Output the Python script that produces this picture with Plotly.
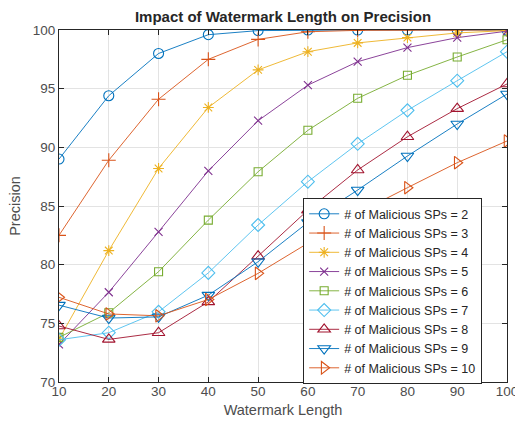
import plotly.graph_objects as go

watermark_length = [10, 20, 30, 40, 50, 60, 70, 80, 90, 100]

sp2 = [89.0, 94.4, 98.0, 99.6, 99.95, 100.0, 100.0, 100.0, 100.0, 100.0]
sp3 = [82.5, 88.9, 94.1, 97.5, 99.2, 99.85, 99.97, 100.0, 100.0, 100.0]
sp4 = [73.65, 81.2, 88.2, 93.4, 96.6, 98.15, 98.9, 99.35, 99.75, 99.95]
sp5 = [73.2, 77.65, 82.8, 88.0, 92.27, 95.3, 97.3, 98.5, 99.35, 99.9]
sp6 = [73.8, 75.9, 79.4, 83.8, 87.92, 91.45, 94.18, 96.14, 97.7, 99.17]
sp7 = [73.6, 74.2, 75.98, 79.3, 83.38, 87.07, 90.3, 93.15, 95.68, 98.15]
sp8 = [74.77, 73.63, 74.2, 76.83, 80.73, 84.65, 88.07, 90.9, 93.3, 95.4]
sp9 = [76.55, 75.45, 75.55, 77.4, 80.25, 83.6, 86.36, 89.26, 91.99, 94.54]
sp10 = [77.22, 75.8, 75.64, 77.03, 79.26, 81.8, 84.4, 86.56, 88.69, 90.54]

series_names = ["# of Malicious SPs = %d" % k for k in range(2, 11)]
series_values = [sp2, sp3, sp4, sp5, sp6, sp7, sp8, sp9, sp10]
colors = ["#0072BD", "#D95319", "#EDB120", "#7E2F8E", "#77AC30",
          "#4DBEEE", "#A2142F", "#0072BD", "#D95319"]
symbols = ["circle-open", "cross-thin-open", "asterisk-open", "x-thin-open",
           "square-open", "diamond-open", "triangle-up-open",
           "triangle-down-open", "triangle-right-open"]
sizes = [10, 10, 9, 8, 8, 10, 11, 11, 11]

fig = go.Figure()
for name, vals, c, s, sz in zip(series_names, series_values, colors, symbols, sizes):
    fig.add_trace(go.Scatter(
        x=watermark_length, y=vals, name=name, mode="lines+markers",
        line=dict(color=c, width=0.9),
        marker=dict(symbol=s, size=sz, color=c, line=dict(color=c, width=1.1)),
    ))

FONT = "Liberation Sans, Arial"
axis_common = dict(
    showline=True, linecolor="#262626", linewidth=1, mirror="ticks",
    ticks="inside", ticklen=5, tickcolor="#262626",
    showgrid=True, gridcolor="#e3e3e3", gridwidth=1, zeroline=False,
    tickfont=dict(family=FONT, size=13.5, color="#4d4d4d"),
    ticklabeloverflow="allow",
)

fig.update_layout(
    width=515, height=425,
    margin=dict(l=59, r=8, t=30, b=43),
    paper_bgcolor="white", plot_bgcolor="white",
    title=dict(text="<b>Impact of Watermark Length on Precision</b>",
               x=(59 + 507) / 2 / 515, xanchor="center", y=1 - 17 / 425, yanchor="middle",
               font=dict(family=FONT, size=15, color="#262626")),
    xaxis=dict(range=[10, 100], tickvals=watermark_length, ticklabelstandoff=-3,
               automargin=False,
               title=dict(text="Watermark Length", standoff=6,
                          font=dict(family=FONT, size=14.5, color="#4d4d4d")),
               **axis_common),
    yaxis=dict(range=[70, 100], tickvals=[70, 75, 80, 85, 90, 95, 100],
               title=dict(text="Precision", standoff=8,
                          font=dict(family=FONT, size=14.5, color="#4d4d4d")),
               **axis_common),
    legend=dict(x=0.545, y=0.258, xanchor="left", yanchor="middle",
                bgcolor="white", bordercolor="#262626", borderwidth=1,
                font=dict(family=FONT, size=12.5, color="#262626"),
                tracegroupgap=0, itemwidth=30),
    showlegend=True,
)

fig.write_html("out.html", config={"displayModeBar": False},
               post_script="document.body.style.margin='0';document.body.style.padding='0';")
